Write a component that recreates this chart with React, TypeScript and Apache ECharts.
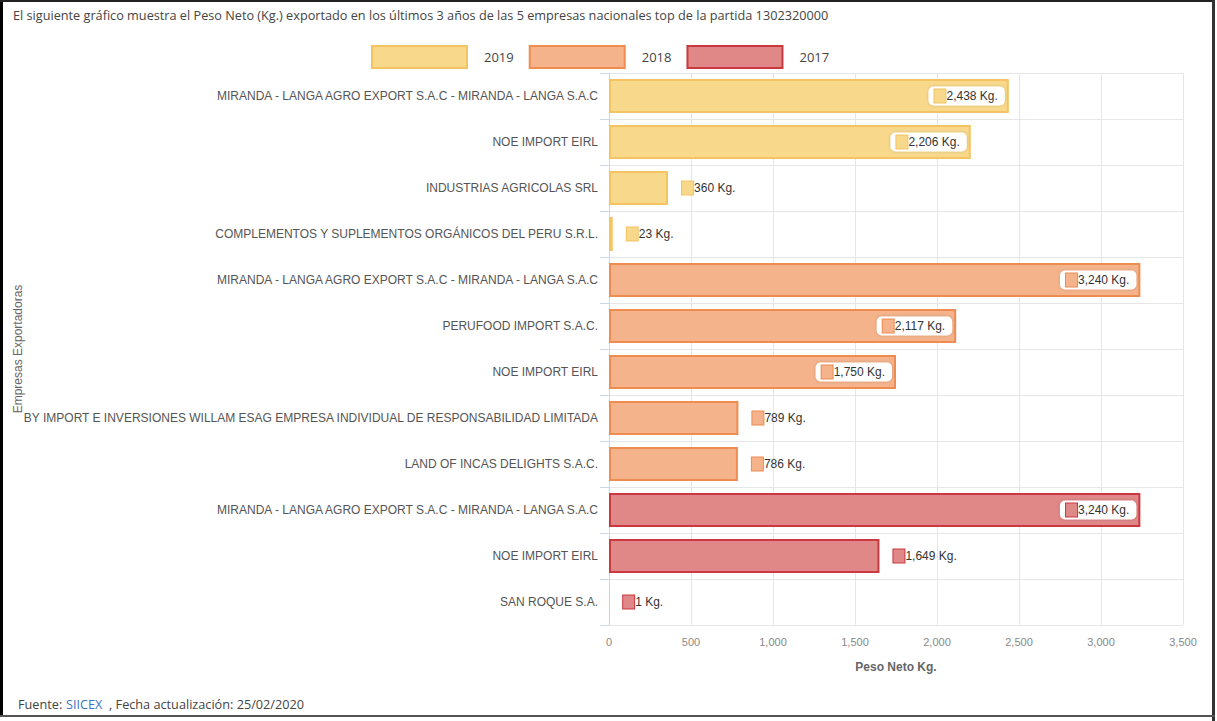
import React, { useEffect, useRef } from "react";
import * as echarts from "echarts";

const categories = [
  "MIRANDA - LANGA AGRO EXPORT S.A.C - MIRANDA - LANGA S.A.C",
  "NOE IMPORT EIRL",
  "INDUSTRIAS AGRICOLAS SRL",
  "COMPLEMENTOS Y SUPLEMENTOS ORGÁNICOS DEL PERU S.R.L.",
  "MIRANDA - LANGA AGRO EXPORT S.A.C - MIRANDA - LANGA S.A.C",
  "PERUFOOD IMPORT S.A.C.",
  "NOE IMPORT EIRL",
  "BY IMPORT E INVERSIONES WILLAM ESAG EMPRESA INDIVIDUAL DE RESPONSABILIDAD LIMITADA",
  "LAND OF INCAS DELIGHTS S.A.C.",
  "MIRANDA - LANGA AGRO EXPORT S.A.C - MIRANDA - LANGA S.A.C",
  "NOE IMPORT EIRL",
  "SAN ROQUE S.A.",
];

const values2019 = [2438, 2206, 360, 23, null, null, null, null, null, null, null, null];
const values2018 = [null, null, null, null, 3240, 2117, 1750, 789, 786, null, null, null];
const values2017 = [null, null, null, null, null, null, null, null, null, 3240, 1649, 1];

const seriesNames = ["2019", "2018", "2017"];
const fills = ["#F8D98C", "#F4B38B", "#E08787"];
const borders = ["#F4C462", "#EE8C52", "#C9393F"];

const xTicks = { min: 0, max: 3500, interval: 500 };

export default function App() {
  const ref = useRef<HTMLDivElement>(null);
  useEffect(() => {
    if (!ref.current) return;
    const chart = echarts.init(ref.current, undefined, { renderer: "svg" });
    const all = [values2019, values2018, values2017];
    const series = all.map((vals, si) => ({
      name: seriesNames[si],
      type: "bar",
      stack: "total",
      barWidth: 34,
      itemStyle: { color: fills[si], borderColor: borders[si], borderWidth: 2 },
      data: vals.map((v) =>
        v == null
          ? null
          : {
              value: v,
              itemStyle: v < 10 ? { borderWidth: 0 } : undefined,
              label: v > 1700
                ? { position: "insideRight", distance: 4, backgroundColor: "#fff", borderRadius: 5, padding: [3, 7, 3, 6], shadowBlur: 3, shadowColor: "rgba(0,0,0,0.18)" }
                : { position: "right", distance: 12, padding: [3, 6, 3, 2] },
            }
      ),
      label: {
        show: true,
        formatter: (p: any) => "{sq|}{t|" + Number(p.value).toLocaleString("en-US") + " Kg.}",
        rich: {
          sq: { width: 11, height: 13, backgroundColor: fills[si], borderColor: borders[si], borderWidth: 1 },
          t: { fontSize: 12, color: "#333", fontFamily: "Liberation Sans, Arial, sans-serif", padding: [0, 0, 0, 1] },
        },
      },
    }));
    chart.setOption({
      animation: false,
      title: {
        text: "El siguiente gráfico muestra el Peso Neto (Kg.) exportado en los últimos 3 años de las 5 empresas nacionales top de la partida 1302320000",
        left: 8,
        top: 3,
        textStyle: { fontSize: 12.7, fontWeight: "normal", color: "#444", fontFamily: "Open Sans, sans-serif" },
      },
      legend: {
        top: 40,
        left: 366,
        itemWidth: 95,
        itemHeight: 22,
        itemGap: 15,
        icon: "rect",
        textStyle: { fontSize: 13, color: "#444", fontFamily: "Open Sans, sans-serif", padding: [0, 0, 0, 12] },
        data: seriesNames,
      },
      grid: { left: 609, right: 34, top: 73, bottom: 96 },
      xAxis: {
        type: "value",
        min: xTicks.min,
        max: xTicks.max,
        interval: xTicks.interval,
        name: "Peso Neto Kg.",
        nameLocation: "middle",
        nameGap: 36,
        nameTextStyle: { fontSize: 12, fontWeight: "bold", color: "#666", fontFamily: "Liberation Sans, Arial, sans-serif" },
        axisLine: { show: false },
        axisTick: { show: false },
        axisLabel: {
          color: "#888",
          fontSize: 11,
          margin: 11,
          fontFamily: "Liberation Sans, Arial, sans-serif",
          formatter: (v: number) => v.toLocaleString("en-US"),
        },
        splitLine: { lineStyle: { color: "#e6e6e6" } },
      },
      yAxis: {
        type: "category",
        inverse: true,
        data: categories,
        name: "Empresas Exportadoras",
        nameLocation: "middle",
        nameRotate: 90,
        nameGap: 585,
        nameMoveOverlap: false,
        nameTextStyle: { fontSize: 12, color: "#666", fontFamily: "Liberation Sans, Arial, sans-serif" },
        axisLine: { show: true, lineStyle: { color: "#ccd6eb" } },
        axisTick: { show: true, length: 9, lineStyle: { color: "#ccd6eb" } },
        axisLabel: { color: "#555", fontSize: 12, margin: 11, fontFamily: "Liberation Sans, Arial, sans-serif" },
        splitLine: { show: true, lineStyle: { color: "#e6e6e6" } },
      },
      graphic: [
        {
          type: "text",
          left: 18,
          top: 697,
          style: { text: "Fuente:", fontSize: 12.7, fill: "#444", fontFamily: "Open Sans, sans-serif" },
        },
        {
          type: "text",
          left: 66,
          top: 697,
          style: { text: "SIICEX", fontSize: 12.7, fill: "#3a74c0", fontFamily: "Open Sans, sans-serif" },
        },
        {
          type: "text",
          left: 109,
          top: 697,
          style: { text: ", Fecha actualización: 25/02/2020", fontSize: 12.7, fill: "#444", fontFamily: "Open Sans, sans-serif" },
        },
      ],
      series,
    });
    return () => chart.dispose();
  }, []);
  return (
    <div style={{ position: "fixed", left: 0, top: 0, width: 1217, height: 721, background: "#fff" }}>
      <div ref={ref} style={{ position: "absolute", left: 0, top: 0, width: 1217, height: 721 }} />
      <div style={{ position: "absolute", left: 0, top: 0, width: 3, height: 717, background: "#000" }} />
      <div style={{ position: "absolute", left: 0, top: 0, width: 1215, height: 2, background: "#222" }} />
      <div style={{ position: "absolute", left: 1212, top: 0, width: 3, height: 721, background: "#333" }} />
      <div style={{ position: "absolute", left: 0, top: 715, width: 1215, height: 2, background: "#555" }} />
    </div>
  );
}
